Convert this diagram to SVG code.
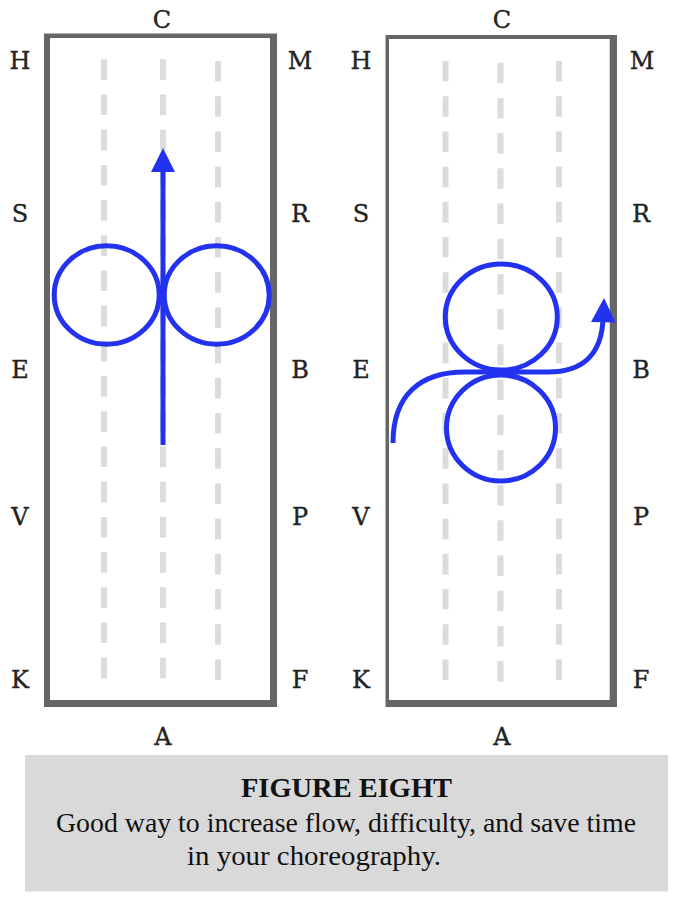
<svg xmlns="http://www.w3.org/2000/svg" width="686" height="904" viewBox="0 0 686 904">
<style>
.lbl{font-family:"DejaVu Serif","Liberation Serif",serif;font-size:24px;fill:#222;stroke:#222;stroke-width:0.35;text-anchor:middle}
.frame{fill:#666}
.inner{fill:#fff}
.dash{stroke:#dcdcdc;stroke-width:6;stroke-dasharray:20.6 14.6;fill:none}
.path{stroke:#2332ef;stroke-width:5;fill:none}
.head{fill:#2332ef}
.cap{font-family:"Liberation Serif","Times New Roman",serif;font-size:27px;fill:#111}
</style>
<rect width="686" height="904" fill="#fff"/>
<g id="arena-left">
<rect class="frame" x="44" y="33.5" width="233" height="673.5"/>
<rect class="inner" x="50" y="38" width="220" height="662"/>
<line class="dash" x1="104" y1="59.3" x2="104" y2="679"/>
<line class="dash" x1="163" y1="59.3" x2="163" y2="679"/>
<line class="dash" x1="218" y1="61" x2="218" y2="681"/>
<text class="lbl" x="162" y="28">C</text>
<text class="lbl" x="20" y="69">H</text>
<text class="lbl" x="300" y="69">M</text>
<text class="lbl" x="20" y="222">S</text>
<text class="lbl" x="300" y="222">R</text>
<text class="lbl" x="20" y="378">E</text>
<text class="lbl" x="300" y="378">B</text>
<text class="lbl" x="20" y="525">V</text>
<text class="lbl" x="300" y="525">P</text>
<text class="lbl" x="20" y="688">K</text>
<text class="lbl" x="300" y="688">F</text>
<text class="lbl" x="163" y="745">A</text>
</g>
<g id="arena-right">
<rect class="frame" x="385.5" y="35" width="231.5" height="672"/>
<rect class="inner" x="389" y="39" width="220.7" height="661"/>
<line class="dash" x1="445.5" y1="61" x2="445.5" y2="681"/>
<line class="dash" x1="500.5" y1="62.7" x2="500.5" y2="683"/>
<line class="dash" x1="559" y1="61" x2="559" y2="681"/>
<text class="lbl" x="502" y="28">C</text>
<text class="lbl" x="361" y="69">H</text>
<text class="lbl" x="642" y="69">M</text>
<text class="lbl" x="361" y="222">S</text>
<text class="lbl" x="641" y="222">R</text>
<text class="lbl" x="361" y="378">E</text>
<text class="lbl" x="641" y="378">B</text>
<text class="lbl" x="361" y="525">V</text>
<text class="lbl" x="641" y="525">P</text>
<text class="lbl" x="361" y="688">K</text>
<text class="lbl" x="641" y="688">F</text>
<text class="lbl" x="502" y="745">A</text>
</g>
<g id="connectors">
<ellipse class="path" cx="106.7" cy="295" rx="52.5" ry="49.2"/>
<ellipse class="path" cx="216.7" cy="295" rx="52.5" ry="49.2"/>
<line class="path" x1="163" y1="445" x2="163" y2="168"/>
<polygon class="head" points="163,148 175,172 151,172"/>
<ellipse class="path" cx="501.3" cy="317" rx="56" ry="53"/>
<ellipse class="path" cx="501" cy="428" rx="54.5" ry="53"/>
<path class="path" d="M393,443 C393,395 420,372 465,372 L548,372 C582,372 602,355 603,318"/>
<polygon class="head" points="604,298 615.5,322.5 591,322"/>
</g>
<g id="caption">
<rect x="25" y="755" width="643" height="136.5" fill="#d9d9d9"/>
<text class="cap" x="241" y="797" font-weight="bold" textLength="211" lengthAdjust="spacingAndGlyphs">FIGURE EIGHT</text>
<text class="cap" x="56" y="832" textLength="580" lengthAdjust="spacingAndGlyphs">Good way to increase flow, difficulty, and save time</text>
<text class="cap" x="187" y="865" textLength="254" lengthAdjust="spacingAndGlyphs">in your choreography.</text>
</g>
</svg>
